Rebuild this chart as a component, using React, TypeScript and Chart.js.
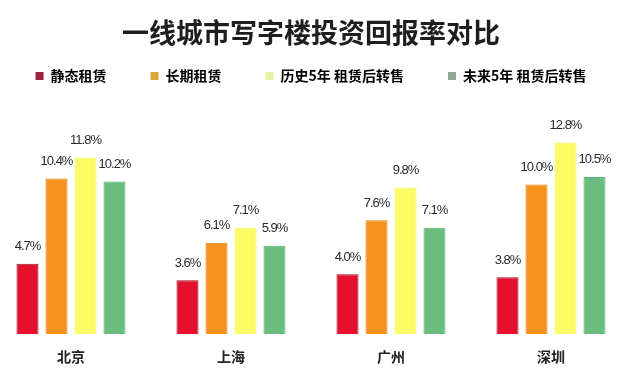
import React, { useEffect, useRef } from "react";
import { Chart, registerables } from "chart.js";

Chart.register(...registerables);

const TITLE = "一线城市写字楼投资回报率对比";
const cities = ["北京", "上海", "广州", "深圳"];
const seriesNames = ["静态租赁", "长期租赁", "历史5年 租赁后转售", "未来5年 租赁后转售"];
const staticRent = [4.7, 3.6, 4.0, 3.8];
const longRent = [10.4, 6.1, 7.6, 10.0];
const historyResale = [11.8, 7.1, 9.8, 12.8];
const futureResale = [10.2, 5.9, 7.1, 10.5];
const barColors = ["#e5102c", "#f7931c", "#fbfb66", "#6abd7f"];
const barBorders = ["#8e1424", "#e07e12", "#f3f360", "#5cae72"];
const legendColors = ["#a0203d", "#d9a63c", "#e2f6a2", "#8ea99a"];

const FONT = "'Noto Sans CJK SC', 'Noto Sans', sans-serif";

const valueLabels = {
  id: "valueLabels",
  afterDatasetsDraw(chart: any) {
    const ctx = chart.ctx;
    ctx.save();
    ctx.font = "13px 'Liberation Sans', Arial, sans-serif";
    (ctx as any).letterSpacing = "-1px";
    ctx.fillStyle = "#2a2a2a";
    ctx.textAlign = "center";
    ctx.textBaseline = "middle";
    chart.data.datasets.forEach((ds: any, di: number) => {
      const meta = chart.getDatasetMeta(di);
      meta.data.forEach((bar: any, i: number) => {
        const v = ds.data[i];
        ctx.fillText(v.toFixed(1) + "%", bar.x, bar.y - 17);
      });
    });
    ctx.restore();
  },
};

export default function App() {
  const ref = useRef<HTMLCanvasElement | null>(null);
  useEffect(() => {
    if (!ref.current) return;
    const series = [staticRent, longRent, historyResale, futureResale];
    const chart = new Chart(ref.current, {
      type: "bar",
      data: {
        labels: cities,
        datasets: series.map((d, i) => ({
          label: seriesNames[i],
          data: d,
          backgroundColor: barColors[i],
          borderColor: barBorders[i],
          borderWidth: 1,
          barPercentage: 0.76,
          categoryPercentage: 0.725,
        })),
      },
      options: {
        animation: false,
        responsive: true,
        maintainAspectRatio: false,
        layout: { padding: { top: 0, bottom: 0, left: 0, right: 0 } },
        plugins: {
          title: {
            display: true,
            text: TITLE,
            color: "#1e1e1e",
            font: { family: FONT, size: 27, weight: "bold" },
            padding: { top: 17, bottom: -24.4 },
          },
          legend: {
            display: true,
            position: "top",
            labels: {
              boxWidth: 8,
              boxHeight: 8,
              padding: 44,
              color: "#222222",
              font: { family: FONT, size: 14, weight: "bold" },
              generateLabels: () =>
                seriesNames.map((n, i) => ({
                  text: n,
                  fillStyle: legendColors[i],
                  strokeStyle: legendColors[i],
                  lineWidth: 0,
                  hidden: false,
                  datasetIndex: i,
                })),
            },
            onClick: () => {},
          },
          tooltip: { enabled: false },
        },
        scales: {
          x: {
            grid: { display: false, drawTicks: false },
            border: { display: false },
            ticks: {
              color: "#222222",
              padding: 14,
              font: { family: FONT, size: 14, weight: "bold" },
            },
          },
          y: {
            display: false,
            min: 0,
            max: 16.1,
          },
        },
      },
      plugins: [valueLabels],
    });
    return () => chart.destroy();
  }, []);

  return (
    <div
      style={{
        position: "fixed",
        left: 0,
        top: 0,
        width: 625,
        height: 374,
        overflow: "hidden",
        background: "#ffffff",
      }}
    >
      <div style={{ position: "absolute", left: -9, top: 0, width: 640, height: 379 }}>
        <canvas ref={ref} />
      </div>
    </div>
  );
}
